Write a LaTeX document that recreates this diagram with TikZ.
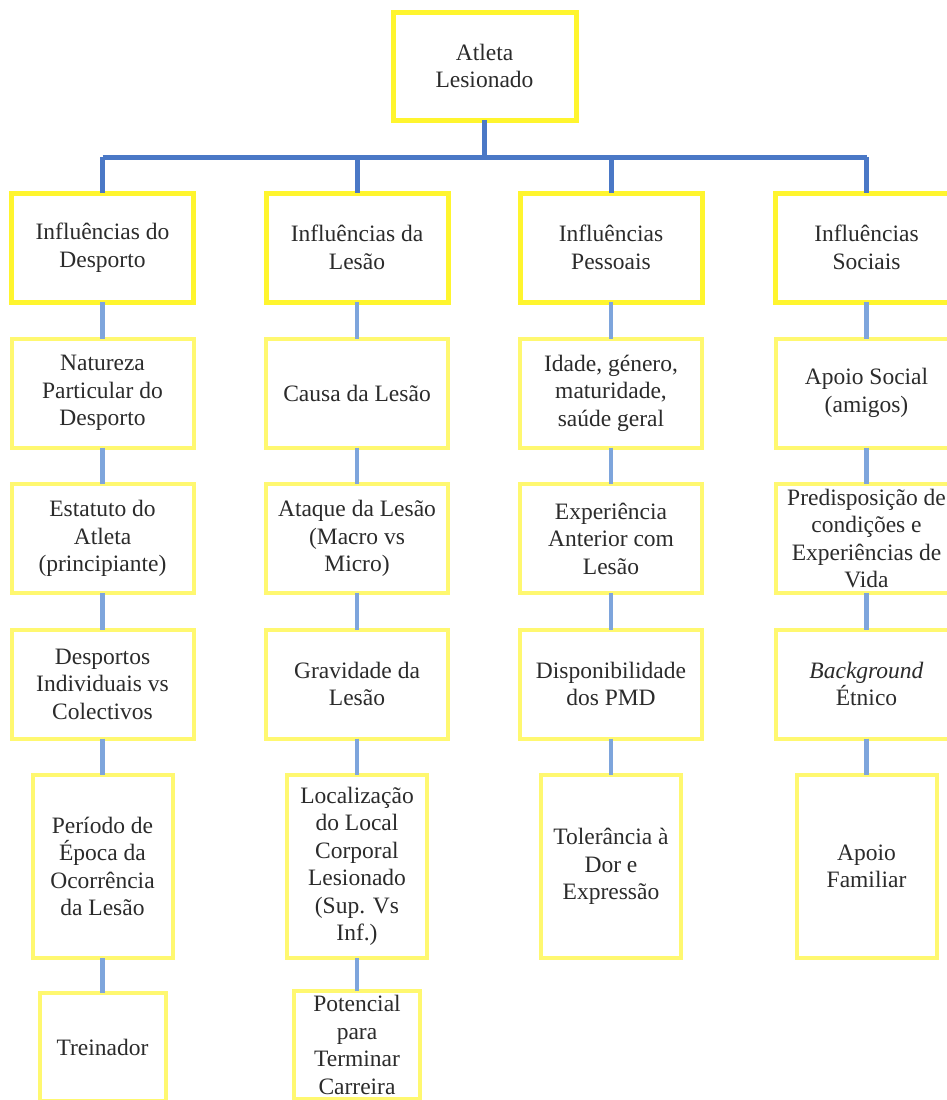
\documentclass[tikz,border=0pt]{standalone}
\usepackage{fontspec}
\setmainfont{Liberation Serif}
\definecolor{boxyellow}{HTML}{FFF52E}
\definecolor{paleyellow}{HTML}{FFF870}
\definecolor{darkblue}{HTML}{4A78C6}
\definecolor{lightblue}{HTML}{7EA5DC}
\definecolor{txt}{HTML}{2B2B2B}
\tikzset{
  box/.style={draw=paleyellow, line width=4pt, fill=white, inner sep=0pt, outer sep=0pt,
    align=center, text=txt, font=\fontsize{23.5}{27.5}\selectfont},
  mainbox/.style={box, draw=boxyellow, line width=5pt},
  wide/.style={minimum width=182pt, minimum height=109pt},
  tall/.style={minimum width=140pt, minimum height=183pt},
  low/.style={minimum width=126pt, minimum height=108pt},
  trunk/.style={draw=darkblue, line width=5pt},
  link/.style={draw=lightblue, line width=4.5pt}
}
\begin{document}
\begin{tikzpicture}[x=1pt,y=-1pt]
\useasboundingbox (0,0) rectangle (947,1100);
% nodes
\node[mainbox, minimum width=183pt, minimum height=108pt] (top) at (484.5,66) {Atleta\\Lesionado};
\node[mainbox, wide] (a1) at (102.5,247.5) {Influências do\\Desporto};
\node[mainbox, wide] (b1) at (357,247.5) {Influências da\\Lesão};
\node[mainbox, wide] (c1) at (611,247.5) {Influências\\Pessoais};
\node[mainbox, wide] (d1) at (866.5,247.5) {Influências\\Sociais};

\node[box, wide] (a2) at (102.5,393) {Natureza\\Particular do\\Desporto};
\node[box, wide] (b2) at (357,393) {Causa da Lesão};
\node[box, wide] (c2) at (611,393) {Idade, género,\\maturidade,\\saúde geral};
\node[box, wide] (d2) at (866.5,393) {Apoio Social\\(amigos)};

\node[box, wide] (a3) at (102.5,538.5) {Estatuto do\\Atleta\\(principiante)};
\node[box, wide] (b3) at (357,538.5) {Ataque da Lesão\\(Macro vs\\Micro)};
\node[box, wide] (c3) at (611,538.5) {Experiência\\Anterior com\\Lesão};
\node[box, wide] (d3) at (866.5,538.5) {Predisposição de\\condições e\\Experiências de\\Vida};

\node[box, wide] (a4) at (102.5,684) {Desportos\\Individuais vs\\Colectivos};
\node[box, wide] (b4) at (357,684) {Gravidade da\\Lesão};
\node[box, wide] (c4) at (611,684) {Disponibilidade\\dos PMD};
\node[box, wide] (d4) at (866.5,684) {\textit{Background}\\Étnico};

\node[box, tall] (a5) at (102.5,866.5) {Período de\\Época da\\Ocorrência\\da Lesão};
\node[box, tall] (b5) at (357,866.5) {Localização\\do Local\\Corporal\\Lesionado\\(Sup. Vs\\Inf.)};
\node[box, tall] (c5) at (611,866.5) {Tolerância à\\Dor e\\Expressão};
\node[box, tall] (d5) at (866.5,866.5) {Apoio\\Familiar};

\node[box, low] (a6) at (102.5,1047) {Treinador};
\node[box, low] (b6) at (357,1045) {Potencial\\para\\Terminar\\Carreira};

% trunk connectors
\coordinate (hub) at (484.5,157);
\draw[trunk] (top.south) -- (hub);
\draw[trunk] (a1.north |- hub) -- (d1.north |- hub);
\foreach \n in {a1,b1,c1,d1}{
  \draw[trunk] (\n.north |- hub) -- (\n.north);
}
% column links
\foreach \c in {a,b,c,d}{
  \draw[link] (\c1.south) -- (\c2.north);
  \draw[link] (\c2.south) -- (\c3.north);
  \draw[link] (\c3.south) -- (\c4.north);
  \draw[link] (\c4.south) -- (\c5.north);
}
\draw[link] (a5.south) -- (a6.north);
\draw[link] (b5.south) -- (b6.north);
\end{tikzpicture}
\end{document}
